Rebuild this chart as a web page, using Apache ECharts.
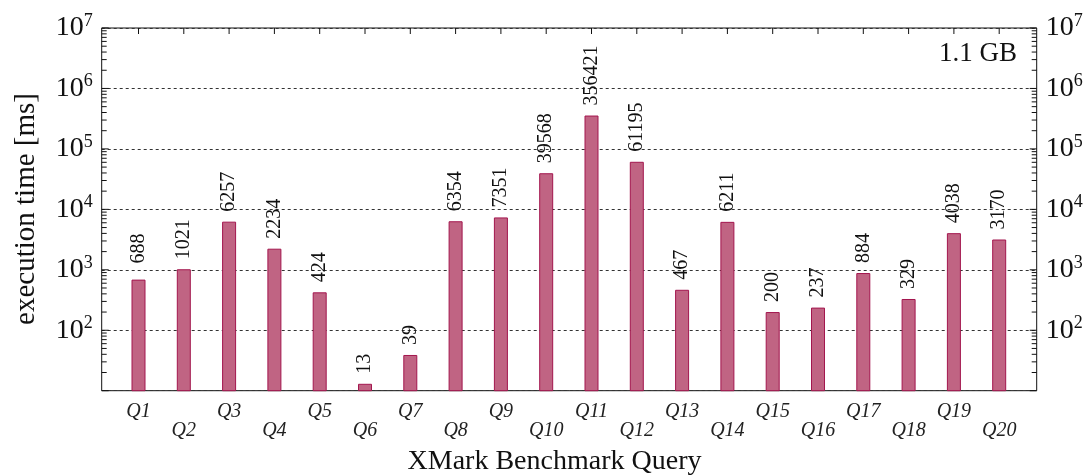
<!DOCTYPE html>
<html><head><meta charset="utf-8">
<script src="https://cdn.jsdelivr.net/npm/echarts@6/dist/echarts.min.js"></script>
<style>html,body{margin:0;padding:0;background:#fff}#c{width:1087px;height:475px}</style>
</head><body><div id="c"></div>
<script>
const categories = ['Q1','Q2','Q3','Q4','Q5','Q6','Q7','Q8','Q9','Q10','Q11','Q12','Q13','Q14','Q15','Q16','Q17','Q18','Q19','Q20'];
const times = [688,1021,6257,2234,424,13,39,6354,7351,39568,356421,61195,467,6211,200,237,884,329,4038,3170];
const majorTicks = [10,100,1000,10000,100000,1000000,10000000];
const minorTicks = [20,30,40,50,60,70,80,90,200,300,400,500,600,700,800,900,
  2000,3000,4000,5000,6000,7000,8000,9000,20000,30000,40000,50000,60000,70000,80000,90000,
  200000,300000,400000,500000,600000,700000,800000,900000,2000000,3000000,4000000,5000000,6000000,7000000,8000000,9000000];
const sizeLabel = '1.1 GB';
const xTitle = 'XMark Benchmark Query';
const yTitle = 'execution time [ms]';

const FONT = '"Liberation Serif", "Times New Roman", serif';
const INK = '#111';
const chart = echarts.init(document.getElementById('c'), null, {renderer:'canvas'});

function powLabel(v){
  const e = Math.round(Math.log10(v));
  if (e < 2) return '';
  return '{b|10}{s|' + e + '}';
}
function powRich(){
  return {
    b:{fontSize:28, fontFamily:FONT, color:INK},
    s:{fontSize:18, fontFamily:FONT, color:INK, padding:[0,0,14,0]}
  };
}

const GA = {left:101.7, right:50.3, top:28, bottom:84.3};
const GB = {left:115.85, right:65.15, top:28, bottom:84.3};

function majorAxis(pos){
  return {
    type:'log', logBase:10, min:10, max:10000000, gridIndex:0, position:pos,
    axisLine:{show:false}, axisTick:{show:false},
    axisLabel:{show:true, formatter:powLabel, rich:powRich(), margin:9},
    splitLine:{show:pos==='left', lineStyle:{color:'#333', width:1, type:[3,3]}},
    minorSplitLine:{show:false}
  };
}

// tick marks drawn as short line segments with a custom series, positioned through the axes
function tickSeries(values, side, len){
  return {
    type:'custom', xAxisIndex:0, yAxisIndex:0, silent:true, clip:false,
    data: values.map(v=>[side, v]),
    renderItem:function(params, api){
      const p = api.coord([api.value(0), api.value(1)]);
      const dir = api.value(0) === 0 ? 1 : -1;
      return {type:'line', shape:{x1:p[0], y1:p[1], x2:p[0] + dir*len, y2:p[1]},
        style:{stroke:INK, lineWidth:1}};
    }
  };
}

const seriesData = times.map((v,i)=> i===0 ? {value:v, label:{distance:16}} : v);

chart.setOption({
  animation:false,
  grid:[
    Object.assign({show:true, borderColor:INK, borderWidth:1, backgroundColor:'transparent'}, GA),
    Object.assign({}, GB)
  ],
  xAxis:[
    {type:'value', gridIndex:0, show:false, min:0, max:1},
    {type:'category', gridIndex:1, data:categories, position:'bottom', boundaryGap:true,
      axisLine:{show:false}, axisTick:{show:false},
      axisLabel:{interval:0, margin:11,
        formatter:(v,i)=> (i%2===0 ? '{o|' : '{e|') + v + '}',
        rich:{
          o:{fontSize:20, fontStyle:'italic', fontFamily:FONT, color:'#222'},
          e:{fontSize:20, fontStyle:'italic', fontFamily:FONT, color:'#222', padding:[19,0,0,0]}
        }}}
  ],
  yAxis:[
    majorAxis('left'), majorAxis('right'),
    {type:'log', logBase:10, min:10, max:10000000, gridIndex:1, show:false}
  ],
  series:[
    {
      type:'bar', xAxisIndex:1, yAxisIndex:2, data:seriesData, barWidth:14,
      itemStyle:{color:'#c06483', borderColor:'#a3164e', borderWidth:1},
      label:{show:true, position:'top', rotate:90, align:'left', verticalAlign:'middle', distance:10,
        fontSize:20, fontFamily:FONT, color:INK}
    },
    tickSeries(majorTicks, 0, 7), tickSeries(majorTicks, 1, 7),
    tickSeries(minorTicks, 0, 5), tickSeries(minorTicks, 1, 5),
    {
      type:'custom', xAxisIndex:1, yAxisIndex:2, silent:true, clip:false,
      data: categories.map((c,i)=>[i, 10000000]),
      renderItem:function(params, api){
        const p = api.coord([api.value(0), api.value(1)]);
        return {type:'line', shape:{x1:p[0], y1:p[1], x2:p[0], y2:p[1] + 6},
          style:{stroke:INK, lineWidth:1}};
      }
    }
  ],
  graphic:[
    {type:'text', x:554.5, y:462, style:{text:xTitle, font:'28px '+FONT, fill:INK, align:'center', verticalAlign:'middle'}},
    {type:'text', x:26, y:209, rotation:Math.PI/2, style:{text:yTitle, font:'29px '+FONT, fill:INK, align:'center', verticalAlign:'middle'}},
    {type:'text', x:1017, y:54, style:{text:sizeLabel, font:'27px '+FONT, fill:INK, align:'right', verticalAlign:'middle'}}
  ]
});
</script></body></html>
